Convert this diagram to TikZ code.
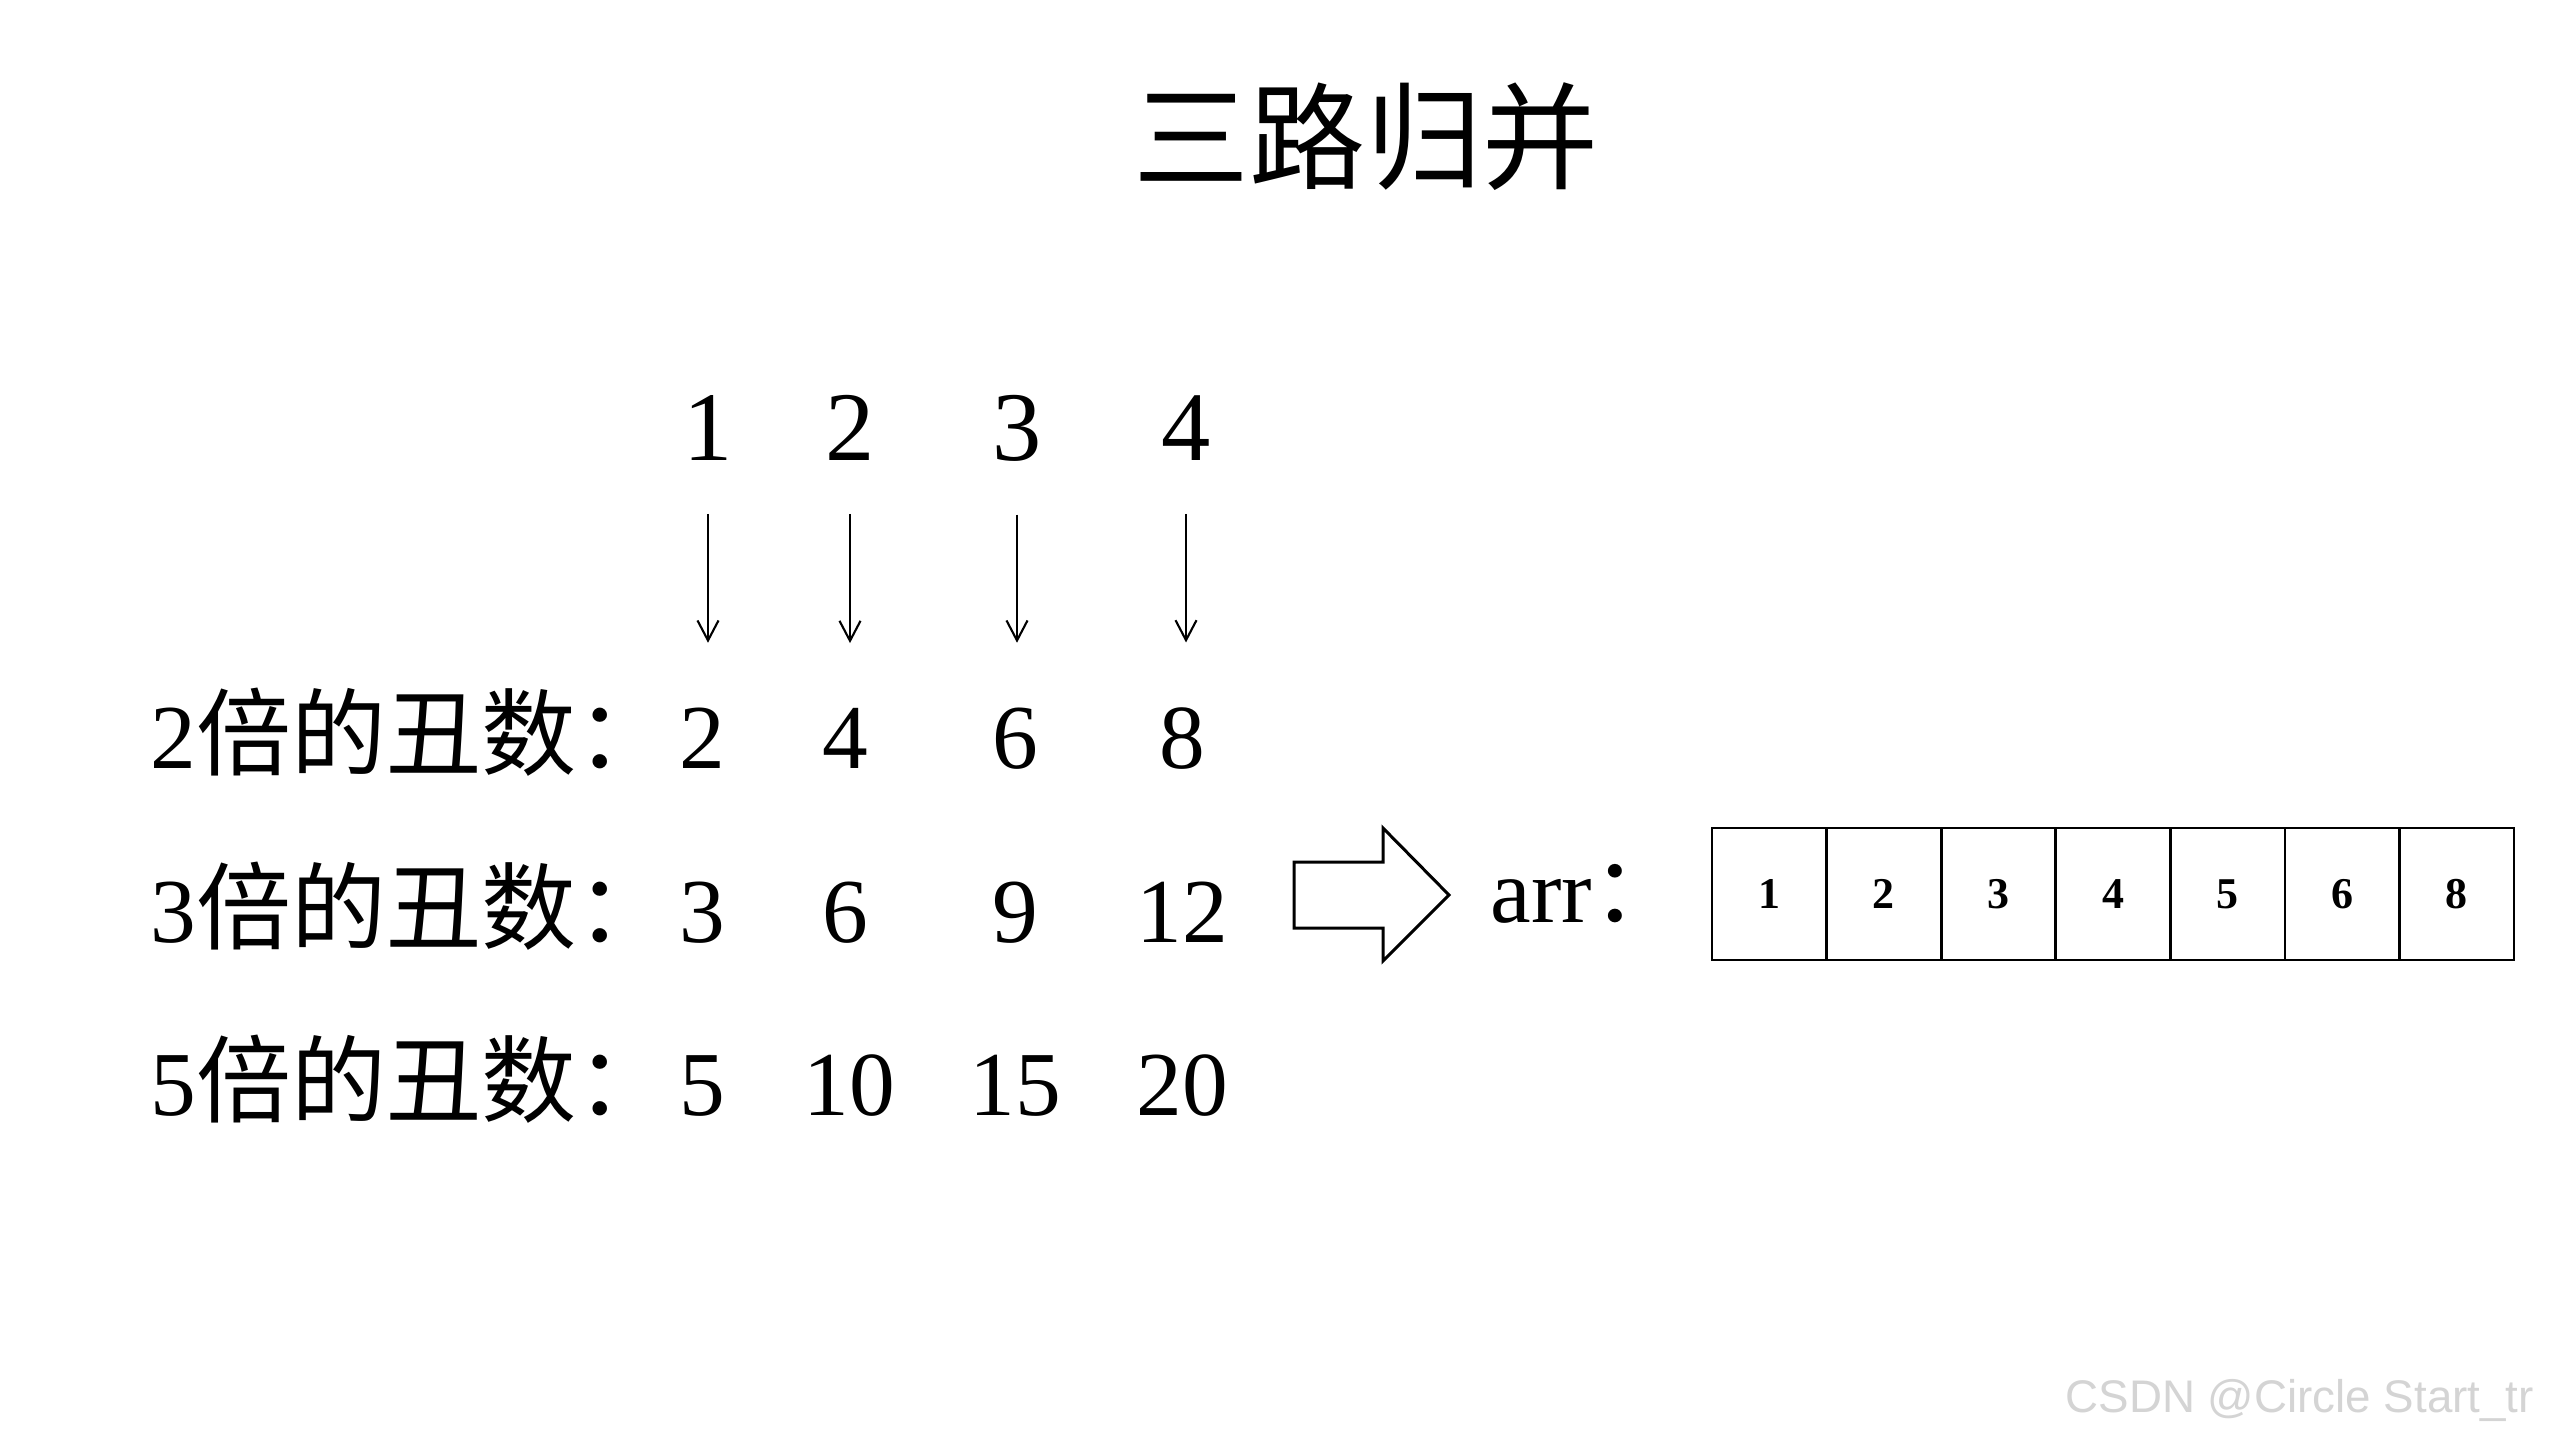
\documentclass[tikz,border=0pt]{standalone}
\usepackage{fontspec}
\setmainfont{Liberation Serif}
\newfontfamily\cjk{Noto Sans CJK SC}
\newfontfamily\wmfont{Liberation Sans}
\usetikzlibrary{arrows.meta}
\newcommand\cjklabel[1]{{\cjk\fontsize{27}{29}\selectfont #1}}
\tikzset{
  titletext/.style={inner sep=0pt, font=\cjk\fontsize{33}{36}\selectfont},
  topnum/.style={inner sep=0pt, anchor=base, font=\fontsize{28}{30}\selectfont},
  rowlabel/.style={inner sep=0pt, anchor=base west, font=\fontsize{26}{28}\selectfont},
  rownum/.style={inner sep=0pt, anchor=base, font=\fontsize{26}{28}\selectfont},
  smallarrow/.style={line width=0.6pt, -{Straight Barb[length=0.2cm,width=0.21cm,line width=0.6pt]}, shorten <=0.53cm, shorten >=0.64cm},
  bigarrow/.style={line width=0.85pt, line join=miter, fill=white},
  cell/.style={draw, line width=0.75pt, minimum width=1.1457cm, minimum height=1.32cm, inner sep=0pt, outer sep=0pt, font=\bfseries\fontsize{12.5}{14}\selectfont},
  watermark/.style={inner sep=0pt, anchor=base west, text=black!17, font=\wmfont\fontsize{13}{15}\selectfont}
}
\begin{document}
\begin{tikzpicture}[x=0.01cm, y=-0.01cm]
\useasboundingbox[fill=white] (0,0) rectangle (2560,1438);

% title
\node[titletext] (title) at (1366,137) {三路归并};

% top indices
\node[topnum] (t1) at (708,460) {1};
\node[topnum] (t2) at (850,460) {2};
\node[topnum] (t3) at (1017,460) {3};
\node[topnum] (t4) at (1186,460) {4};

% row labels
\node[rowlabel] (l2) at (150,768) {2\cjklabel{倍的丑数：}};
\node[rowlabel] (l3) at (150,942) {3\cjklabel{倍的丑数：}};
\node[rowlabel] (l5) at (150,1115) {5\cjklabel{倍的丑数：}};

% row numbers
\node[rownum] (a1) at (702,768) {2};
\node[rownum] (a2) at (845,768) {4};
\node[rownum] (a3) at (1015,768) {6};
\node[rownum] (a4) at (1182,768) {8};

\node[rownum] (b1) at (702,942) {3};
\node[rownum] (b2) at (845,942) {6};
\node[rownum] (b3) at (1015,942) {9};
\node[rownum] (b4) at (1182,942) {12};

\node[rownum] (c1) at (702,1115) {5};
\node[rownum] (c2) at (849,1115) {10};
\node[rownum] (c3) at (1015,1115) {15};
\node[rownum] (c4) at (1182,1115) {20};

% pointer arrows
\draw[smallarrow] (t1.south) -- (t1.south |- a1.north);
\draw[smallarrow] (t2.south) -- (t2.south |- a2.north);
\draw[smallarrow] (t3.south) -- (t3.south |- a3.north);
\draw[smallarrow] (t4.south) -- (t4.south |- a4.north);

% big block arrow
\draw[bigarrow] (1294,862) -- (1383,862) -- (1383,828) -- (1449,895)
  -- (1383,961) -- (1383,928) -- (1294,928) -- cycle;

% arr label
\node[rowlabel] (arrlabel) at (1490,922) {arr{\cjk ：}};

% array cells
\foreach \v [count=\i] in {1,2,3,4,5,6,8}
  \node[cell] (m\i) at ({1769.3+114.57*(\i-1)},894) {\v};

% watermark
\node[watermark] (wm) at (2065,1412) {CSDN @Circle Start\_tr};
\end{tikzpicture}
\end{document}
